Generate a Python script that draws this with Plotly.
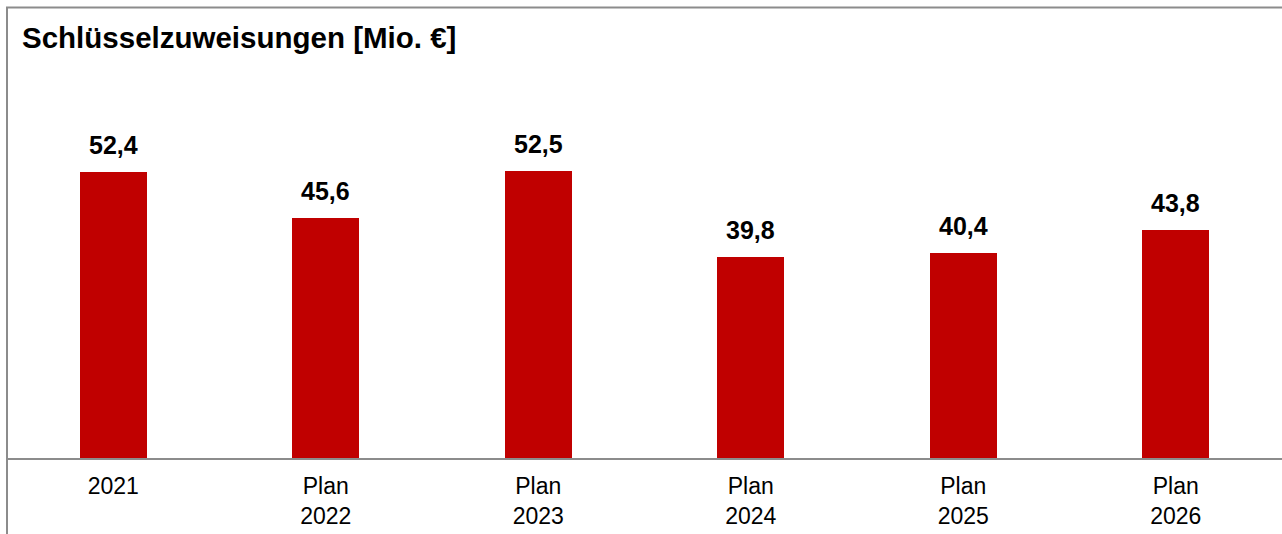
import plotly.graph_objects as go

categories = ["2021", "Plan<br>2022", "Plan<br>2023", "Plan<br>2024", "Plan<br>2025", "Plan<br>2026"]
values = [52.4, 45.6, 52.5, 39.8, 40.4, 43.8]
value_labels = ["52,4", "45,6", "52,5", "39,8", "40,4", "43,8"]

W, H = 1282, 534
FONT = "Liberation Sans, Arial, sans-serif"
RED = "#C00000"
GRAY = "#8C8C8C"

fig = go.Figure()
fig.add_trace(go.Bar(
    x=list(range(len(categories))), y=values, width=0.315,
    marker=dict(color=RED, line=dict(width=0)),
    hoverinfo="skip",
))

for i, (v, t) in enumerate(zip(values, value_labels)):
    fig.add_annotation(
        x=i, y=v, text="<b>%s</b>" % t, showarrow=False,
        yanchor="bottom", yshift=11,
        font=dict(family=FONT, size=25, color="#000000"),
    )

# frame lines (top and left)
fig.add_shape(type="line", xref="paper", yref="paper", x0=-1/1276, x1=1.01, y0=1 + (53 - 7.5) / 405, y1=1 + (53 - 7.5) / 405,
              line=dict(color=GRAY, width=2))
fig.add_shape(type="line", xref="paper", yref="paper", x0=0.0, x1=0.0, y0=-76 / 405 - 0.01, y1=1 + (53 - 7) / 405,
              line=dict(color=GRAY, width=2))

fig.update_layout(
    width=W, height=H,
    margin=dict(l=7, r=0, t=53, b=76),
    paper_bgcolor="white", plot_bgcolor="white",
    showlegend=False,
    bargap=0,
    title=dict(
        text="<b>Schlüsselzuweisungen [Mio. €]</b>",
        font=dict(family=FONT, size=29.5, color="#000000"),
        xref="container", yref="container",
        x=22 / W, xanchor="left", y=1 - 38 / H, yanchor="middle",
    ),
    xaxis=dict(
        range=[-0.5, 5.5],
        tickmode="array", tickvals=list(range(len(categories))), ticktext=categories,
        showline=True, linecolor=GRAY, linewidth=2,
        showgrid=False, zeroline=False, ticks="", ticklen=0,
        ticklabelstandoff=6,
        tickfont=dict(family=FONT, size=23, color="#000000"),
    ),
    yaxis=dict(
        range=[10, 70], visible=False, showgrid=False, zeroline=False,
    ),
)

fig.write_html("out.html")
